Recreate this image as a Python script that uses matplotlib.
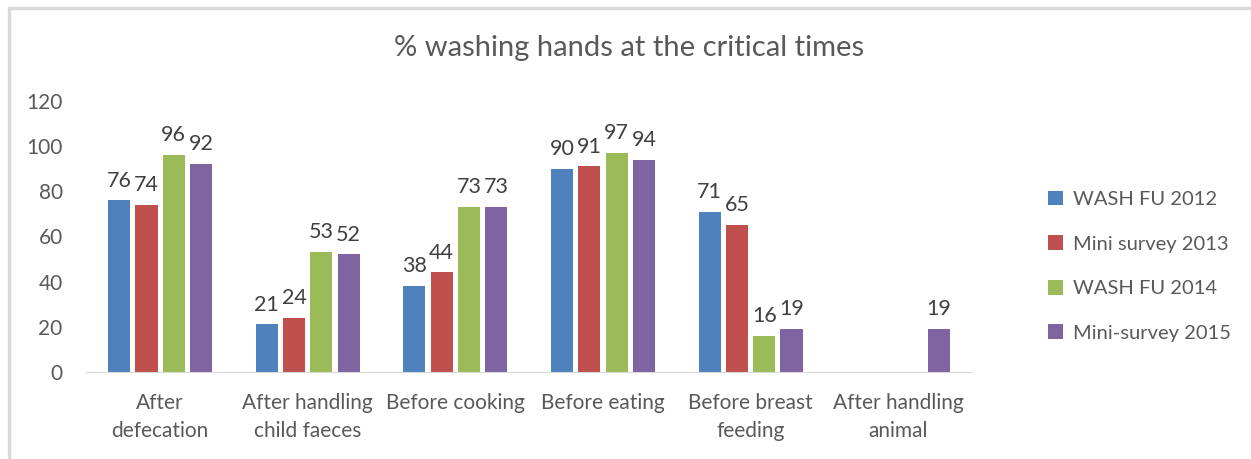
import matplotlib.pyplot as plt
import numpy as np
from matplotlib.patches import Rectangle

plt.rcParams['font.family'] = ['Lato', 'DejaVu Sans']

categories = ['After\ndefecation', 'After handling\nchild faeces', 'Before cooking',
              'Before eating', 'Before breast\nfeeding', 'After handling\nanimal']
series_names = ['WASH FU 2012', 'Mini survey 2013', 'WASH FU 2014', 'Mini-survey 2015']
wash_2012 = [76, 21, 38, 90, 71, None]
mini_2013 = [74, 24, 44, 91, 65, None]
wash_2014 = [96, 53, 73, 97, 16, None]
mini_2015 = [92, 52, 73, 94, 19, 19]
colors = ['#4F81BD', '#C0504D', '#9BBB59', '#8064A2']

text_col = '#595959'

fig = plt.figure(figsize=(12.51, 4.59), dpi=100)
ax = fig.add_axes([0.069, 0.19, 0.708, 0.59])

x = np.arange(len(categories))
step = 0.185
width = 0.15
all_series = [wash_2012, mini_2013, wash_2014, mini_2015]
for i, (vals, name, c) in enumerate(zip(all_series, series_names, colors)):
    pos = x + (i - 1.5) * step
    keep = [j for j, v in enumerate(vals) if v is not None]
    bars = ax.bar(pos[keep], [vals[j] for j in keep], width=width, color=c, label=name)
    ax.bar_label(bars, padding=7, fontsize=15.5, color='#404040')

ax.set_xlim(-0.5, len(categories) - 0.5)
ax.set_ylim(0, 120)
ax.set_yticks(range(0, 121, 20))
ax.set_xticks(x)
ax.set_xticklabels(categories, fontsize=15, color=text_col, linespacing=1.5)
ax.tick_params(axis='y', length=0, pad=17, labelsize=15, labelcolor=text_col)
ax.tick_params(axis='x', length=0, pad=15)
for s in ['top', 'right', 'left']:
    ax.spines[s].set_visible(False)
ax.spines['bottom'].set_color('#D9D9D9')

fig.text(0.503, 0.895, '% washing hands at the critical times', ha='center', va='center',
         fontsize=21, color=text_col)

ax.legend(loc='center left', bbox_to_anchor=(1.065, 0.39), frameon=False, fontsize=14.5,
          labelcolor=text_col, handlelength=0.75, handleheight=0.75, labelspacing=1.35,
          handletextpad=0.5)

# outer chart frame
fig.add_artist(Rectangle((0.007, -0.05), 1.1, 1.032, transform=fig.transFigure,
                         fill=False, edgecolor='#D9D9D9', linewidth=2.5))

fig.savefig('out.png', dpi=100)
